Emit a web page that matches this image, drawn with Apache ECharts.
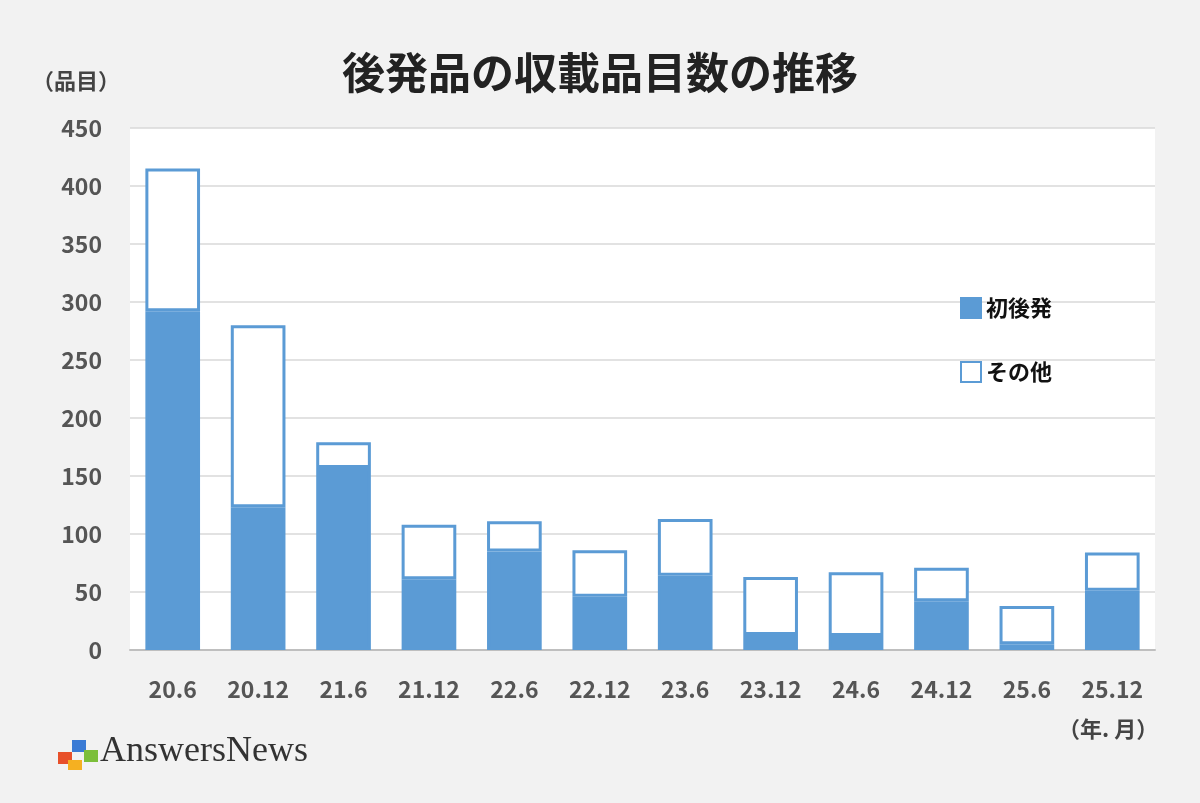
<!DOCTYPE html>
<html lang="ja">
<head>
<meta charset="UTF-8">
<title>後発品の収載品目数の推移</title>
<script src="https://cdn.jsdelivr.net/npm/echarts@6/dist/echarts.min.js"></script>
<style>body{margin:0;background:#f2f2f2}</style>
</head>
<body>
<div id="chart" style="width:1200px;height:803px;"></div>
<script>
var categories = ['20.6','20.12','21.6','21.12','22.6','22.12','23.6','23.12','24.6','24.12','25.6','25.12'];
var firstGeneric = [292, 123, 157, 61, 85, 46, 64, 13, 12, 42, 5, 51];
var totals = [415, 280, 179, 108, 111, 86, 113, 63, 67, 71, 38, 84];
var others = [];
for (var i = 0; i < totals.length; i++) {
    others.push(totals[i] - firstGeneric[i]);
}
var font = '"Noto Sans CJK JP", sans-serif';
var blue = '#5b9bd5';
var myChart = echarts.init(document.getElementById('chart'));
var option = {
    backgroundColor: '#f2f2f2',
    animation: false,
    title: {
        text: '後発品の収載品目数の推移',
        left: 'center',
        top: 46,
        textStyle: {fontFamily: font, fontSize: 43, fontWeight: 'bold', color: '#222'}
    },
    legend: {
        orient: 'vertical',
        left: 955,
        top: 292,
        itemGap: 42,
        itemWidth: 20,
        itemHeight: 20,
        icon: 'rect',
        textStyle: {fontFamily: font, fontSize: 22, fontWeight: 'bold', color: '#111'},
        data: ['初後発', 'その他']
    },
    graphic: [
        {type: 'rect', z: -1, shape: {x: 130, y: 128, width: 1025, height: 522}, style: {fill: '#fff'}},
        {type: 'text', left: 32, top: 70, style: {text: '（品目）', font: 'bold 22px ' + font, fill: '#444'}},
        {type: 'text', left: 1058, top: 718, style: {text: '（年. 月）', font: 'bold 22px ' + font, fill: '#444'}},
        {type: 'text', left: 100, top: 734, style: {text: 'AnswersNews', font: '36px "Liberation Serif", serif', fill: '#333'}},
        {type: 'rect', shape: {x: 58, y: 752, width: 14, height: 12}, style: {fill: '#e8502a'}},
        {type: 'rect', shape: {x: 72, y: 740, width: 14, height: 12}, style: {fill: '#3a7bd5'}},
        {type: 'rect', shape: {x: 84, y: 750, width: 14, height: 12}, style: {fill: '#7cbf3a'}},
        {type: 'rect', shape: {x: 68, y: 760, width: 14, height: 10}, style: {fill: '#f5b021'}}
    ],
    grid: {left: 130, right: 45, top: 128, bottom: 153},
    xAxis: {
        type: 'category',
        data: categories,
        axisTick: {show: false},
        axisLine: {lineStyle: {color: '#bfbfbf', width: 2}},
        axisLabel: {margin: 28, fontFamily: font, fontSize: 23, fontWeight: 'bold', color: '#555'}
    },
    yAxis: {
        type: 'value',
        min: 0,
        max: 450,
        interval: 50,
        axisLabel: {margin: 28, fontFamily: font, fontSize: 23, fontWeight: 'bold', color: '#555'},
        splitLine: {lineStyle: {color: '#d9d9d9', width: 1.5}}
    },
    series: [
        {
            name: '初後発',
            type: 'bar',
            stack: 'all',
            barWidth: '64%',
            data: firstGeneric,
            itemStyle: {color: blue, borderColor: blue, borderWidth: 3}
        },
        {
            name: 'その他',
            type: 'bar',
            stack: 'all',
            data: others,
            itemStyle: {color: '#fff', borderColor: blue, borderWidth: 3}
        }
    ]
};
myChart.setOption(option);
</script>
</body>
</html>
